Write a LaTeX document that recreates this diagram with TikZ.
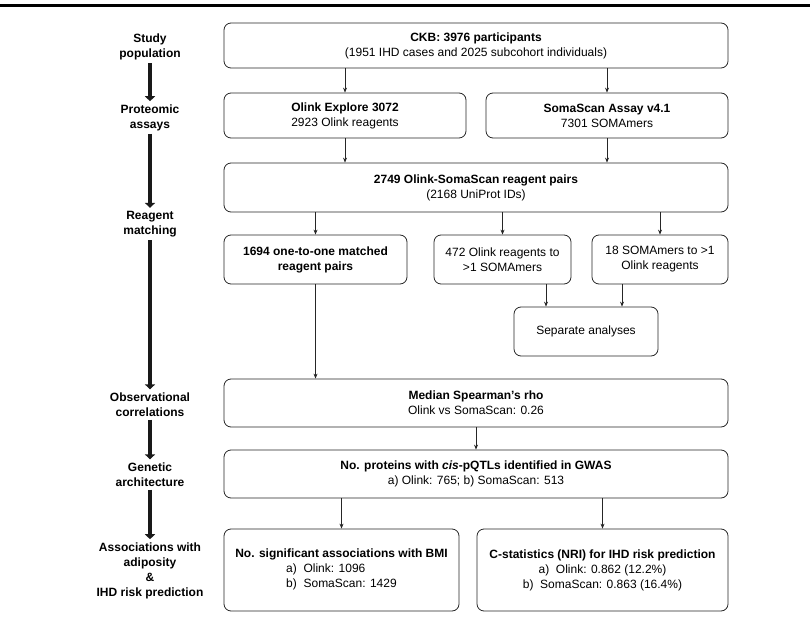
\documentclass[tikz,border=0pt]{standalone}
\usepackage{fontspec}
\setmainfont{Liberation Sans}
\usetikzlibrary{arrows.meta, calc}

\begin{document}
\begin{tikzpicture}[x=1pt, y=-1pt,
  box/.style={draw=black!85, line width=0.8pt, rounded corners=7pt, align=center,
    inner sep=2pt, font=\fontsize{12}{15}\selectfont},
  link/.style={black!85, line width=0.7pt, -{Stealth[length=5pt, width=4pt]}},
  stage/.style={align=center, inner sep=2pt, font=\fontsize{12}{15}\selectfont\bfseries},
  flow/.style={black!90, line width=4.5pt, -{Triangle[length=5pt, width=10pt]},
    shorten <=1pt, shorten >=1pt}]
  \useasboundingbox (0,0) rectangle (810,617);
  \fill (0,4) rectangle (810,7);

  % stages on the left
  \foreach \i/\y/\txt in {1/47/{Study\\population}, 2/117.5/{Proteomic\\assays},
      3/224/{Reagent\\matching}, 4/404.5/{Observational\\correlations},
      5/474.5/{Genetic\\architecture},
      6/570.5/{Associations with\\adiposity\\\&\\IHD risk prediction}} {
    \node[stage] (lab\i) at (150,\y) {\txt};
  }
  \foreach \a/\b in {1/2, 2/3, 3/4, 4/5, 5/6}
    \draw[flow] (lab\a) -- (lab\b);

  % boxes
  \node[box, minimum width=504pt, minimum height=45pt] (ckb) at (476,45.5)
    {\textbf{CKB: 3976 participants}\\(1951 IHD cases and 2025 subcohort individuals)};
  \node[box, minimum width=242pt, minimum height=45pt] (olink) at (345,115.5)
    {\textbf{Olink Explore 3072}\\2923 Olink reagents};
  \node[box, minimum width=242pt, minimum height=45pt] (soma) at (607,115.5)
    {\textbf{SomaScan Assay v4.1}\\7301 SOMAmers};
  \node[box, minimum width=504pt, minimum height=49pt] (pairs) at (476,187.5)
    {\textbf{2749 Olink-SomaScan reagent pairs}\\(2168 UniProt IDs)};
  \node[box, minimum width=183pt, minimum height=49pt] (one) at (315.5,259.5)
    {\textbf{1694 one-to-one matched}\\\textbf{reagent pairs}};
  \node[box, minimum width=137pt, minimum height=49pt] (olinkmulti) at (502.5,259.5)
    {472 Olink reagents to\\>1 SOMAmers};
  \node[box, minimum width=136pt, minimum height=49pt] (somamulti) at (660,259.5)
    {18 SOMAmers to >1\\Olink reagents};
  \node[box, minimum width=144pt, minimum height=49pt] (sep) at (586,331.5)
    {Separate analyses};
  \node[box, minimum width=504pt, minimum height=48pt] (rho) at (476,403)
    {\textbf{Median Spearman's rho}\\Olink vs SomaScan: 0.26};
  \node[box, minimum width=504pt, minimum height=48pt] (pqtl) at (476,474)
    {\textbf{No. proteins with \textit{cis}-pQTLs identified in GWAS}\\a) Olink: 765; b) SomaScan: 513};
  \node[box, minimum width=235pt, minimum height=82pt] (bmi) at (341.5,570)
    {\textbf{No. significant associations with BMI}\\
     \begin{tabular}[t]{@{}l@{}}a)\ \ Olink: 1096\\b)\ \ SomaScan: 1429\end{tabular}};
  \node[box, minimum width=251pt, minimum height=82pt] (cstat) at (602.5,570)
    {\textbf{C-statistics (NRI) for IHD risk prediction}\\a)\ \ Olink: 0.862 (12.2\%)\\b)\ \ SomaScan: 0.863 (16.4\%)};

  % connectors
  \draw[link] (olink |- ckb.south) -- (olink.north);
  \draw[link] (soma |- ckb.south) -- (soma.north);
  \draw[link] (olink.south) -- (olink.south |- pairs.north);
  \draw[link] (soma.south) -- (soma.south |- pairs.north);
  \draw[link] (one |- pairs.south) -- (one.north);
  \draw[link] (olinkmulti |- pairs.south) -- (olinkmulti.north);
  \draw[link] (somamulti |- pairs.south) -- (somamulti.north);
  \coordinate (m1) at ($(sep.north)+(-40,0)$);
  \coordinate (m2) at ($(sep.north)+(36,0)$);
  \draw[link] (m1 |- olinkmulti.south) -- (m1);
  \draw[link] (m2 |- somamulti.south) -- (m2);
  \draw[link] (one.south) -- (one.south |- rho.north);
  \draw[link] (rho.south) -- (pqtl.north);
  \draw[link] (bmi |- pqtl.south) -- (bmi.north);
  \draw[link] (cstat |- pqtl.south) -- (cstat.north);
\end{tikzpicture}
\end{document}
